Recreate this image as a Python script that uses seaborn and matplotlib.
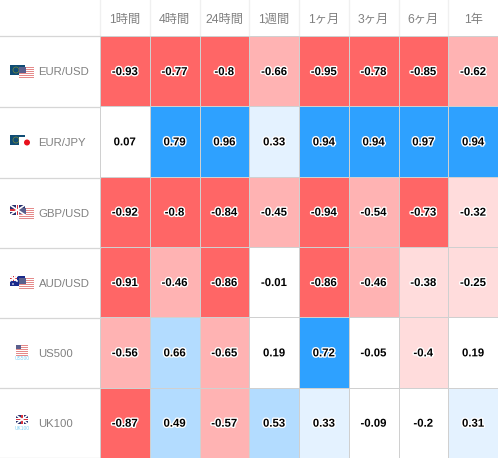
import matplotlib
import matplotlib.pyplot as plt
import matplotlib.patheffects as pe
import numpy as np
import seaborn as sns
from matplotlib.colors import BoundaryNorm, ListedColormap
from matplotlib.patches import Circle, Rectangle

matplotlib.use('Agg')

periods = ["1時間", "4時間", "24時間", "1週間", "1ヶ月", "3ヶ月", "6ヶ月", "1年"]
symbols = ["EUR/USD", "EUR/JPY", "GBP/USD", "AUD/USD", "US500", "UK100"]

eur_usd = [-0.93, -0.77, -0.8, -0.66, -0.95, -0.78, -0.85, -0.62]
eur_jpy = [0.07, 0.79, 0.96, 0.33, 0.94, 0.94, 0.97, 0.94]
gbp_usd = [-0.92, -0.8, -0.84, -0.45, -0.94, -0.54, -0.73, -0.32]
aud_usd = [-0.91, -0.46, -0.86, -0.01, -0.86, -0.46, -0.38, -0.25]
us500 = [-0.56, 0.66, -0.65, 0.19, 0.72, -0.05, -0.4, 0.19]
uk100 = [-0.87, 0.49, -0.57, 0.53, 0.33, -0.09, -0.2, 0.31]

levels = [-1.01, -0.7, -0.41, -0.2, 0.2, 0.4, 0.7, 1.01]
colours = ["#ff6666", "#ffb3b3", "#ffdcdc", "#ffffff", "#e4f2ff", "#b3dcff", "#2ea1ff"]

W, H = 498, 458
plt.rcParams['font.family'] = ['Liberation Sans', 'Noto Sans CJK JP', 'DejaVu Sans']

values = np.array([eur_usd, eur_jpy, gbp_usd, aud_usd, us500, uk100])
labels = np.array([[str(v) for v in row] for row in values])

fig = plt.figure(figsize=(W / 100, H / 100), dpi=100)
ax = fig.add_axes([100 / W, 0, 398 / W, 422 / H])
sns.heatmap(values, ax=ax, cmap=ListedColormap(colours),
            norm=BoundaryNorm(levels, len(colours)), cbar=False,
            annot=labels, fmt="", linewidths=0.7, linecolor="#d0d0d0",
            annot_kws={"fontsize": 8.2, "fontweight": "bold", "color": "black",
                       "path_effects": [pe.withStroke(linewidth=2, foreground="white")]})
for t in ax.texts:
    tx, ty = t.get_position()
    t.set_position((tx, ty + 0.012))
ax.set_xticks(np.arange(len(periods)) + 0.5)
ax.set_xticklabels(periods, fontsize=8.8, color="#808080", rotation=0)
ax.xaxis.tick_top()
ax.tick_params(axis='x', length=0, pad=7.5)
ax.set_yticks([])

# overlay in pixel coords for the row labels, header lines and flags
over = fig.add_axes([0, 0, 1, 1], zorder=3)
over.set_xlim(0, W)
over.set_ylim(H, 0)
over.axis('off')

row_tops = [36, 107, 178, 248, 318, 388]
col_edges = [100, 150, 200, 249, 299, 349, 399, 448]
for x in col_edges:
    over.plot([x, x], [0, 35], color="#f0f0f0", lw=1)
for y in row_tops + [458]:
    over.plot([0, 100], [y - 0.5, y - 0.5], color="#d6d6d6", lw=0.9)


def box(x, y, w, h, c):
    over.add_patch(Rectangle((x, y), w, h, fc=c, ec="none"))


def us_flag(x, y, w=15, h=11):
    box(x, y, w, h, "#ffffff")
    for i in range(0, 6):
        box(x, y + i * 2, w, 1, "#e58a8a")
    box(x, y, w * 0.45, h * 0.55, "#5a5f8c")


def eu_flag(x, y):
    box(x, y, 15, 10, "#0f4c75")
    over.add_patch(Circle((x + 6, y + 5), 3, fc="none", ec="#7a8a3a", lw=0.5))


def uk_flag(x, y, w=15, h=10):
    box(x, y, w, h, "#27306e")
    over.plot([x, x + w], [y, y + h], color="white", lw=1.2)
    over.plot([x, x + w], [y + h, y], color="white", lw=1.2)
    box(x, y + h / 2 - 1.5, w, 3, "white")
    box(x + w / 2 - 1.5, y, 3, h, "white")
    box(x, y + h / 2 - 0.7, w, 1.4, "#d8323c")
    box(x + w / 2 - 0.7, y, 1.4, h, "#d8323c")


def au_flag(x, y):
    box(x, y, 15, 10, "#1a2a8c")
    uk_flag(x, y, 7, 5)
    for sx, sy in [(3, 8), (10, 3), (12, 6), (10, 8)]:
        over.add_patch(Circle((x + sx, y + sy), 0.8, fc="white", ec="none"))


for y, name in zip(row_tops, symbols):
    over.text(38.5, y + 36, name, fontsize=8.2, color="#808080", va='center', ha='left')

eu_flag(10, 65)
us_flag(19, 67)
eu_flag(10, 135)
box(19, 137, 15, 11, "#ffffff")
over.add_patch(Circle((27, 142.5), 3, fc="#e8101c", ec="none"))
uk_flag(10, 205)
us_flag(19, 208)
au_flag(10, 276)
us_flag(19, 278)
us_flag(16, 345, 12, 8)
over.text(22, 358, "US500", fontsize=3.5, color="#7fd0f5", ha='center', va='center')
uk_flag(16, 415, 12, 9)
over.text(22, 428, "UK100", fontsize=3.5, color="#7fd0f5", ha='center', va='center')

plt.savefig('out.png', dpi=100)
